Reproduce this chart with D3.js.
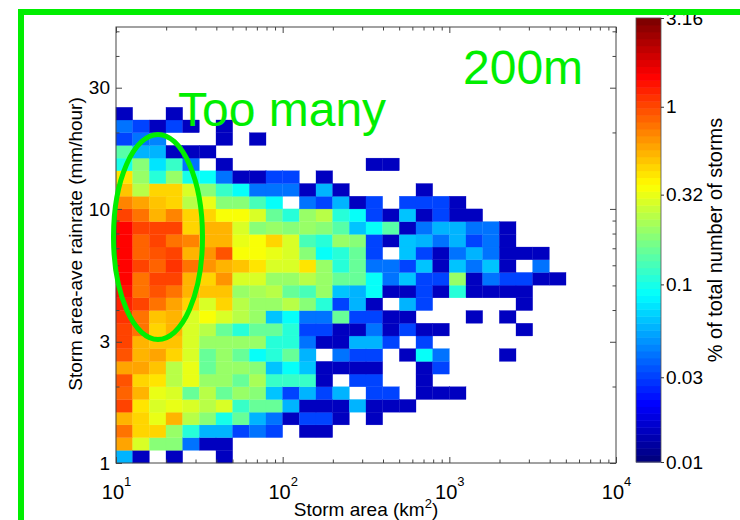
<!DOCTYPE html>
<html>
<head>
<meta charset="utf-8">
<script src="https://cdnjs.cloudflare.com/ajax/libs/d3/7.8.5/d3.min.js"></script>
<style>
    body { margin: 0; background: #fff; }
    svg { font-family: "Liberation Sans", Arial, Helvetica, sans-serif; }
</style>
</head>
<body>
<svg id="chart" width="740" height="520"></svg>
<script>
(function () {

    // % of total number of storms, one row per rainrate bin (lowest first),
    // one entry per storm area bin (10 km2 upward), 0 = no storms
    var pct = [
        [0.06, 0.015, 0, 0.015, 0, 0, 0.015],
        [0.6, 0.3, 0.18, 0.18, 0.042, 0.015, 0.015],
        [0.75, 0.47, 0.47, 0.21, 0.11, 0.06, 0.06, 0.03, 0.042, 0.03, 0, 0.015, 0.015],
        [0.55, 0.47, 0.33, 0.55, 0.25, 0.18, 0.1, 0.16, 0.06, 0.042, 0.015, 0.03, 0.03, 0.015, 0, 0.015],
        [1.0, 0.4, 0.3, 0.33, 0.28, 0.25, 0.28, 0.12, 0.16, 0.15, 0.06, 0.015, 0.015, 0.015, 0.06, 0.015, 0.015, 0.015],
        [0.85, 0.55, 0.33, 0.28, 0.16, 0.25, 0.15, 0.2, 0.18, 0.065, 0.03, 0.06, 0.03, 0.06, 0, 0.03, 0.03, 0, 0.015, 0.015, 0.015],
        [0.9, 0.47, 0.4, 0.25, 0.33, 0.21, 0.21, 0.15, 0.23, 0.12, 0.12, 0.12, 0.015, 0, 0.03, 0.03, 0, 0, 0.015],
        [0.6, 0.6, 0.52, 0.25, 0.33, 0.16, 0.21, 0.21, 0.18, 0.065, 0.087, 0.065, 0.015, 0.015, 0.015, 0.015, 0, 0, 0.015, 0.03],
        [0.9, 0.55, 0.6, 0.47, 0.28, 0.16, 0.21, 0.16, 0.087, 0.11, 0.15, 0.06, 0, 0.042, 0.03, 0.03, 0, 0.015, 0.087, 0.042, 0, 0, 0, 0.015],
        [1.0, 0.55, 0.5, 0.5, 0.28, 0.21, 0.21, 0.21, 0.21, 0.11, 0.11, 0.042, 0.015, 0.015, 0.06, 0.06, 0.03, 0, 0.03],
        [1.0, 0.75, 0.47, 0.55, 0.28, 0.25, 0.16, 0.11, 0.15, 0.16, 0.11, 0.03, 0.03, 0.015, 0.015, 0.042, 0.015, 0.03, 0.015, 0.015, 0, 0, 0, 0, 0.015],
        [1.1, 0.8, 0.52, 0.55, 0.28, 0.36, 0.28, 0.25, 0.2, 0.065, 0.087, 0.042, 0.042, 0.15, 0.03, 0.03, 0.015, 0.015, 0, 0, 0, 0.015, 0, 0.015],
        [1.2, 1.05, 0.75, 0.6, 0.47, 0.28, 0.47, 0.25, 0.2, 0.2, 0.25, 0.18, 0.11, 0.03, 0.06, 0.015, 0, 0.06, 0.03, 0, 0, 0, 0, 0, 0.015],
        [1.4, 0.75, 0.9, 0.8, 0.55, 0.52, 0.52, 0.21, 0.23, 0.25, 0.16, 0.13, 0.21, 0.065, 0.06, 0.087, 0.015, 0.015, 0.03, 0.015, 0.11, 0.015, 0.015, 0.015, 0.015],
        [1.5, 0.75, 1.05, 1.05, 0.55, 0.47, 0.65, 0.28, 0.3, 0.21, 0.21, 0.25, 0.21, 0.15, 0.15, 0.087, 0.042, 0.065, 0.03, 0.03, 0.21, 0.015, 0.042, 0.03, 0.03, 0.015, 0.015],
        [1.5, 1.05, 0.85, 1.1, 0.75, 0.65, 0.55, 0.52, 0.4, 0.28, 0.28, 0.4, 0.21, 0.11, 0.15, 0.042, 0.042, 0.03, 0.065, 0.015, 0.065, 0.042, 0.065, 0.015, 0, 0.042],
        [1.5, 0.85, 0.9, 1.05, 0.55, 0.65, 0.9, 0.36, 0.36, 0.33, 0.28, 0.18, 0.087, 0.11, 0.16, 0.03, 0, 0.065, 0.03, 0.015, 0.042, 0.06, 0.042, 0.015, 0.015, 0.015],
        [1.5, 0.85, 1.05, 0.75, 0.7, 0.55, 0.55, 0.33, 0.36, 0.47, 0.28, 0.13, 0.11, 0.21, 0.18, 0.03, 0.015, 0.065, 0.06, 0.042, 0.06, 0.03, 0.042, 0.015],
        [1.5, 1.05, 1.0, 1.05, 0.47, 0.55, 0.55, 0.28, 0.18, 0.21, 0.18, 0.21, 0.18, 0.14, 0.065, 0.087, 0.14, 0.015, 0.042, 0.06, 0.06, 0.042, 0.042, 0.015],
        [1.05, 0.75, 0.55, 0.7, 0.45, 0.47, 0.36, 0.36, 0.28, 0.15, 0.11, 0.2, 0.25, 0.11, 0.087, 0.03, 0.015, 0.065, 0.015, 0.03, 0.015, 0.015],
        [0.7, 0.6, 0.52, 0.45, 0.25, 0.33, 0.18, 0.18, 0.13, 0.087, 0, 0.042, 0.03, 0.06, 0.015, 0.03, 0, 0.03, 0.03, 0.03, 0.015],
        [0.52, 0.25, 0.45, 0.45, 0.28, 0.18, 0.12, 0.087, 0.042, 0.042, 0.042, 0.015, 0.06, 0.015, 0, 0, 0, 0, 0.015],
        [0.4, 0.21, 0.11, 0.21, 0.1, 0.087, 0.042, 0.015, 0.015, 0.03, 0.03, 0, 0.015],
        [0.1, 0.18, 0.075, 0.12, 0.042, 0, 0.015, 0, 0, 0, 0, 0, 0, 0, 0, 0.015, 0.015],
        [0.14, 0.06, 0.06, 0.015, 0.015, 0.015],
        [0.03, 0.042, 0.045, 0, 0, 0, 0.015, 0, 0.015],
        [0.042, 0.03, 0.015, 0.03, 0.015, 0, 0.015],
        [0.015, 0, 0, 0.015]
    ];

    // histogram bin edges: 0.1 decade in area, 0.05 decade in rainrate
    var areaEdges = d3.range(28).map(function (i) { return Math.pow(10, 1 + i / 10); });
    var rainEdges = d3.range(29).map(function (j) { return Math.pow(10, j / 20); });

    // tick labels
    var xTicks = [10, 100, 1000, 10000];
    var yTicks = [1, 3, 10, 30];
    var cbTicks = [0.01, 0.03, 0.1, 0.32, 1, 3.16];

    var green = '#00ee00';

    // MATLAB style jet colormap
    var jet = function (t) {
        var f = function (c) {
            return Math.round(255 * Math.max(0, Math.min(1, 1.5 - Math.abs(4 * t - c))));
        };
        return d3.rgb(f(3), f(2), f(1)).toString();
    };
    var nLevels = 64;
    var level = d3.scaleLog().domain([0.01, 3.16]).range([0, 1]).clamp(true);
    var colorOf = function (v) {
        var k = Math.min(nLevels - 1, Math.floor(level(v) * nLevels));
        return jet(k / (nLevels - 1));
    };

    var svg = d3.select('#chart');

    // scales
    var x = d3.scaleLog().domain([10, 1e4]).range([116, 616]);
    var y = d3.scaleLog().domain([1, 52]).range([463, 27]);
    var cb = d3.scaleLog().domain([0.01, 3.16]).range([462, 18]);

    // cells
    var cells = [];
    pct.forEach(function (row, j) {
        row.forEach(function (v, i) {
            if (v > 0) cells.push({ i: i, j: j, v: v });
        });
    });

    svg.append('g')
        .attr('class', 'cells')
        .selectAll('rect')
        .data(cells)
        .enter()
        .append('rect')
        .attr('x', function (d) { return x(areaEdges[d.i]); })
        .attr('y', function (d) { return y(rainEdges[d.j + 1]); })
        .attr('width', function (d) { return x(areaEdges[d.i + 1]) - x(areaEdges[d.i]); })
        .attr('height', function (d) { return y(rainEdges[d.j]) - y(rainEdges[d.j + 1]); })
        .attr('fill', function (d) { return colorOf(d.v); })
        .attr('stroke', function (d) { return colorOf(d.v); })
        .attr('stroke-width', 0.3);

    // axes, ticks pointing inward on all four sides
    var isMajorX = function (d) { return xTicks.indexOf(Math.round(d)) >= 0; };
    var isMajorY = function (d) { return yTicks.indexOf(Math.round(d)) >= 0; };
    var minorX = x.ticks().filter(function (d) { return !isMajorX(d); });
    var minorY = y.ticks().filter(function (d) { return !isMajorY(d); });

    var axes = svg.append('g').attr('class', 'axes');
    var addAxis = function (maker, scale, values, size, tx, ty, pad) {
        var g = axes.append('g')
            .attr('transform', 'translate(' + tx + ',' + ty + ')')
            .call(maker(scale).tickValues(values).tickSize(size).tickPadding(pad || 3).tickFormat(''));
        g.select('.domain').remove();
        g.selectAll('line').attr('stroke', '#444');
        return g;
    };

    addAxis(d3.axisBottom, x, minorX, -3.5, 0, 463);
    addAxis(d3.axisTop, x, minorX, -3.5, 0, 27);
    addAxis(d3.axisTop, x, xTicks, -6, 0, 27);
    addAxis(d3.axisLeft, y, minorY, -3.5, 116, 0);
    addAxis(d3.axisRight, y, minorY, -3.5, 616, 0);
    addAxis(d3.axisRight, y, yTicks, -6, 616, 0);

    var gx = addAxis(d3.axisBottom, x, xTicks, -6, 0, 463, 22);
    gx.selectAll('.tick text').each(function (d) {
        var t = d3.select(this);
        t.text('10')
            .attr('font-size', 20)
            .attr('fill', '#000');
        t.append('tspan')
            .attr('dy', -13)
            .attr('font-size', 13)
            .text(Math.round(Math.log10(d)));
    });

    var gy = addAxis(d3.axisLeft, y, yTicks, -6, 116, 0, 6);
    gy.selectAll('.tick text')
        .text(function (d) { return d; })
        .attr('font-size', 19)
        .attr('fill', '#000');

    // axes box
    axes.append('rect')
        .attr('x', 116).attr('y', 27)
        .attr('width', 500).attr('height', 436)
        .attr('fill', 'none')
        .attr('stroke', '#444')
        .attr('stroke-width', 1);

    // axis titles
    var xt = svg.append('text')
        .attr('x', 366).attr('y', 516)
        .attr('text-anchor', 'middle')
        .attr('font-size', 19)
        .text('Storm area (km');
    xt.append('tspan').attr('dy', -8).attr('font-size', 13).text('2');
    xt.append('tspan').attr('dy', 8).text(')');

    svg.append('text')
        .attr('transform', 'translate(82,244) rotate(-90)')
        .attr('text-anchor', 'middle')
        .attr('font-size', 19)
        .text('Storm area-ave rainrate (mm/hour)');

    // colorbar
    var cbar = svg.append('g').attr('class', 'colorbar');
    cbar.selectAll('rect')
        .data(d3.range(nLevels))
        .enter()
        .append('rect')
        .attr('x', 636)
        .attr('width', 25)
        .attr('y', function (k) { return cb(Math.pow(10, -2 + 2.5 * (k + 1) / nLevels)); })
        .attr('height', function (k) {
            return cb(Math.pow(10, -2 + 2.5 * k / nLevels)) - cb(Math.pow(10, -2 + 2.5 * (k + 1) / nLevels)) + 0.5;
        })
        .attr('fill', function (k) { return jet(k / (nLevels - 1)); });
    cbar.append('rect')
        .attr('x', 636).attr('y', 18)
        .attr('width', 25).attr('height', 444)
        .attr('fill', 'none')
        .attr('stroke', '#555')
        .attr('stroke-width', 0.8);

    var gc = cbar.append('g')
        .attr('transform', 'translate(661,0)')
        .call(d3.axisRight(cb).tickValues(cbTicks).tickSize(3).tickPadding(2)
            .tickFormat(function (d) { return String(d); }));
    gc.select('.domain').remove();
    gc.selectAll('line').attr('stroke', '#333');
    gc.selectAll('.tick text')
        .attr('font-size', 19)
        .attr('fill', '#000');

    svg.append('text')
        .attr('transform', 'translate(722,240) rotate(-90)')
        .attr('text-anchor', 'middle')
        .attr('font-size', 20)
        .text('% of total number of storms');

    // annotations
    var notes = svg.append('g').attr('class', 'notes');
    notes.append('line')
        .attr('x1', 18).attr('y1', 12).attr('x2', 740).attr('y2', 12)
        .attr('stroke', green).attr('stroke-width', 6);
    notes.append('line')
        .attr('x1', 21).attr('y1', 9).attr('x2', 21).attr('y2', 520)
        .attr('stroke', green).attr('stroke-width', 6);
    notes.append('ellipse')
        .attr('cx', 158).attr('cy', 237)
        .attr('rx', 44.5).attr('ry', 102.5)
        .attr('fill', 'none')
        .attr('stroke', green)
        .attr('stroke-width', 5);
    notes.append('text')
        .attr('x', 463).attr('y', 84)
        .attr('font-size', 48)
        .attr('fill', green)
        .text('200m');
    notes.append('text')
        .attr('x', 178).attr('y', 126)
        .attr('font-size', 48)
        .attr('fill', green)
        .text('Too many');

})();
</script>
</body>
</html>
